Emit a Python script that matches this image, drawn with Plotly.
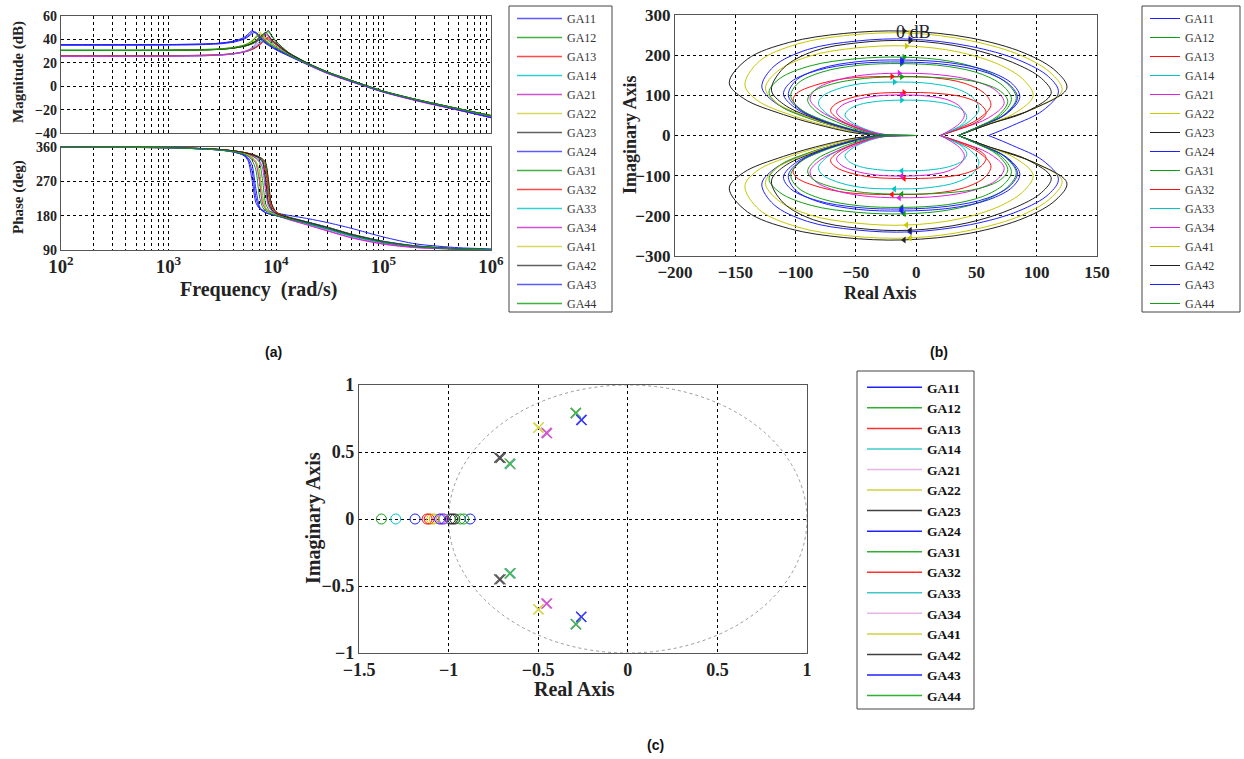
import plotly.graph_objects as go

W, H = 1244, 759

SERIES = ["GA11", "GA12", "GA13", "GA14", "GA21", "GA22", "GA23", "GA24",
          "GA31", "GA32", "GA33", "GA34", "GA41", "GA42", "GA43", "GA44"]

# ---- (a) Bode data ----
FREQ = [100, 1000, 2000, 3000, 4000, 5000, 5500, 6000, 6500, 7000, 7500, 8000,
        8500, 9000, 10000, 13000, 20000, 30000, 50000, 100000, 200000, 500000, 1000000]

MAG_DB = [
    [35.5, 35.6, 36.0, 36.8, 38.5, 41.5, 44.5, 47.5, 45.0, 41.0, 38.5, 36.5, 35.0, 33.5, 31.0, 26.0, 18.0, 11.0, 4.0, -5.0, -12.0, -20.5, -27.0],
    [31.0, 31.1, 31.4, 32.0, 33.0, 34.6, 35.7, 37.2, 39.2, 41.8, 44.0, 42.0, 39.0, 37.0, 34.0, 27.5, 19.0, 12.0, 4.8, -4.4, -11.4, -19.4, -25.3],
    [26.0, 26.1, 26.4, 26.9, 27.8, 29.2, 30.2, 31.4, 33.0, 35.0, 37.5, 40.2, 42.0, 40.0, 36.5, 28.5, 19.0, 11.8, 4.5, -4.6, -11.8, -20.0, -26.0],
    [26.0, 26.1, 26.4, 26.9, 27.8, 29.3, 30.3, 31.6, 33.4, 35.6, 38.0, 40.0, 39.5, 38.0, 35.5, 28.0, 18.8, 11.7, 4.5, -4.6, -11.7, -19.8, -25.6],
    [25.5, 25.6, 26.0, 26.5, 27.5, 29.0, 30.2, 31.6, 33.6, 36.4, 40.2, 44.0, 42.5, 39.5, 35.5, 28.0, 18.6, 11.4, 4.1, -5.0, -12.2, -20.4, -26.3],
    [30.5, 30.6, 31.0, 31.7, 33.0, 35.0, 36.5, 38.8, 42.5, 46.5, 43.0, 39.5, 37.0, 35.5, 33.0, 27.0, 18.8, 11.8, 4.7, -4.5, -11.5, -19.5, -25.5],
    [30.5, 30.6, 31.0, 31.5, 32.5, 34.0, 35.0, 36.2, 37.8, 39.8, 42.3, 45.5, 47.5, 44.0, 38.5, 29.0, 19.5, 12.3, 5.0, -4.2, -11.2, -19.2, -25.0],
    [35.5, 35.6, 36.0, 36.7, 38.2, 40.8, 43.2, 46.5, 46.0, 42.0, 39.0, 37.0, 35.3, 34.0, 31.5, 26.5, 18.5, 11.5, 4.3, -4.8, -11.8, -20.2, -26.6],
    [30.5, 30.6, 31.0, 31.5, 32.5, 34.0, 35.0, 36.3, 37.9, 40.0, 42.8, 45.8, 46.5, 43.5, 38.0, 28.8, 19.4, 12.2, 5.0, -4.2, -11.2, -19.2, -25.0],
    [26.0, 26.1, 26.4, 26.9, 27.8, 29.3, 30.3, 31.5, 33.2, 35.3, 38.0, 40.5, 40.5, 39.0, 35.8, 28.2, 18.8, 11.7, 4.4, -4.7, -11.9, -20.1, -26.1],
    [25.5, 25.6, 26.0, 26.6, 27.6, 29.3, 30.5, 32.2, 34.6, 38.0, 39.0, 38.3, 37.0, 35.8, 33.7, 27.3, 18.5, 11.5, 4.3, -4.8, -11.9, -20.0, -25.8],
    [25.5, 25.6, 26.0, 26.6, 27.7, 29.5, 30.9, 33.0, 36.5, 43.0, 41.5, 38.8, 37.0, 35.7, 33.2, 27.0, 18.2, 11.0, 3.8, -5.2, -12.4, -20.6, -26.5],
    [30.5, 30.6, 31.0, 31.6, 32.8, 34.6, 36.0, 38.0, 41.0, 44.5, 44.0, 40.5, 37.8, 36.0, 33.5, 27.2, 19.0, 12.0, 4.8, -4.4, -11.4, -19.4, -25.3],
    [30.5, 30.6, 31.0, 31.5, 32.6, 34.2, 35.3, 36.7, 38.5, 41.0, 44.0, 46.0, 43.5, 40.5, 36.5, 28.5, 19.3, 12.2, 5.0, -4.3, -11.3, -19.3, -25.2],
    [35.0, 35.1, 35.5, 36.2, 37.6, 40.0, 42.2, 45.0, 46.0, 43.0, 39.8, 37.6, 35.8, 34.4, 32.0, 26.8, 18.6, 11.5, 4.2, -4.9, -11.9, -20.3, -26.8],
    [30.5, 30.6, 31.0, 31.7, 33.0, 35.0, 36.5, 38.8, 42.0, 43.0, 40.5, 38.0, 36.3, 35.0, 32.8, 27.0, 18.8, 11.8, 4.7, -4.5, -11.5, -19.5, -25.4],
]

PHASE_DEG = [
    [359.5, 358, 355, 352, 347.5, 338, 324, 272, 214, 199, 195, 193, 191.5, 190, 187, 181, 172, 162, 147, 124, 106, 96, 93],
    [359.5, 358, 356, 353, 349, 344.5, 341, 336, 330, 320, 272, 212, 197, 190, 183, 174, 161, 148, 130, 111, 99, 93, 91],
    [359.5, 358.5, 356, 353.5, 350, 346, 343.5, 340.5, 337, 333, 327, 316, 272, 214, 190, 175, 160, 147, 129, 110, 99, 92.5, 91],
    [359.5, 358.5, 356, 353.5, 349.5, 345, 342.5, 339, 335, 329, 318, 272, 214, 199, 187, 173, 158, 145, 127, 109, 98, 92.5, 91],
    [359.5, 358, 355.5, 353, 349, 344.5, 341.5, 337.5, 332, 324, 305, 245, 205, 195, 185, 171, 155, 140, 122, 105, 96, 92, 91],
    [359.5, 358, 355.5, 352.5, 348.5, 343, 338, 330, 318, 272, 212, 196, 190, 186, 181, 173, 161, 149, 131, 112, 100, 93, 91],
    [359.5, 358.5, 356, 353.5, 350, 346, 343.5, 341, 338, 334, 329, 320, 275, 215, 190, 177, 163, 150, 132, 113, 101, 93.5, 91],
    [359.5, 358, 355, 352, 347, 339, 328, 295, 228, 200, 192, 188, 185, 183, 180, 172, 160, 148, 130, 112, 100, 93, 91],
    [359.5, 358.5, 356, 353.5, 350, 346, 343, 340.5, 337, 333, 326, 312, 250, 205, 189, 176, 162, 149, 131, 112, 100, 93, 91],
    [359.5, 358.5, 356, 353.5, 350, 345.5, 343, 340, 336, 331, 323, 300, 235, 205, 189, 175, 160, 147, 129, 110, 99, 92.5, 91],
    [359.5, 358, 355.5, 352.5, 348.5, 343, 338.5, 332, 322, 298, 232, 201, 192, 187, 181, 171, 157, 144, 126, 108, 98, 92.5, 91],
    [359.5, 358, 355.5, 352.5, 348.5, 343, 338, 330, 317, 272, 213, 198, 192, 187, 181, 170, 155, 141, 123, 106, 97, 92, 91],
    [359.5, 358, 355.5, 352.5, 348.5, 343.5, 339, 332, 322, 295, 230, 200, 192, 187, 182, 173, 161, 149, 131, 112, 100, 93, 91],
    [359.5, 358.5, 356, 353.5, 350, 345.5, 343, 340, 336, 331, 322, 275, 215, 198, 186, 175, 162, 149, 131, 112, 100, 93, 91],
    [359.5, 358, 355, 352, 347, 340, 332, 312, 250, 205, 193, 188, 185, 183, 180, 172, 160, 147, 129, 111, 99, 93, 91],
    [359.5, 358, 355, 352, 348, 341.5, 336, 325, 300, 232, 202, 193, 188, 185, 181, 172, 159, 146, 128, 110, 99, 92.5, 91],
]

# ---- (b) Nyquist data: upper half (positive imaginary branch) ----
NYQ_RE = [
    [60, 80, 105, 118, 110, 85, 45, -5, -50, -90, -118, -128, -118, -92, -64, -45, -28, 0],
    [35, 52, 73, 83, 77, 58, 28, -10, -50, -87, -113, -122, -113, -88, -60, -43, -28, 0],
    [20, 35, 52, 62, 57, 40, 14, -20, -58, -84, -99, -102, -94, -74, -52, -38, -25, 0],
    [20, 32, 45, 52, 48, 34, 10, -18, -46, -66, -78, -81, -74, -58, -42, -31, -21, 0],
    [20, 38, 60, 73, 67, 48, 20, -14, -45, -70, -84, -88, -80, -62, -45, -33, -22, 0],
    [35, 60, 97, 121, 113, 88, 45, -5, -55, -98, -130, -142, -132, -103, -70, -48, -30, 0],
    [35, 62, 100, 125, 116, 90, 45, -10, -60, -105, -140, -155, -143, -110, -75, -50, -30, 0],
    [35, 53, 75, 86, 80, 60, 28, -12, -48, -80, -100, -106, -98, -78, -55, -40, -26, 0],
    [35, 51, 70, 79, 73, 55, 26, -12, -47, -78, -98, -104, -96, -76, -54, -40, -26, 0],
    [20, 34, 50, 58, 54, 40, 17, -10, -36, -55, -67, -71, -65, -52, -38, -29, -20, 0],
    [20, 29, 38, 42, 39, 28, 10, -12, -32, -47, -56, -59, -54, -44, -33, -25, -17, 0],
    [20, 28, 36, 40, 37, 27, 10, -12, -34, -51, -62, -66, -60, -48, -36, -27, -18, 0],
    [35, 55, 82, 97, 90, 70, 35, -8, -50, -88, -115, -125, -116, -90, -62, -44, -28, 0],
    [35, 58, 92, 112, 104, 80, 42, -5, -48, -85, -110, -120, -110, -86, -60, -43, -28, 0],
    [35, 52, 74, 84, 78, 59, 27, -12, -49, -82, -104, -110, -101, -80, -56, -41, -27, 0],
    [35, 50, 67, 76, 70, 52, 24, -12, -43, -70, -86, -90, -83, -66, -48, -36, -24, 0],
]
NYQ_IM = [
    [0, 25, 62, 108, 146, 188, 222, 240, 235, 214, 172, 121, 84, 47, 20, 6, 1, 0],
    [0, 22, 52, 92, 125, 160, 185, 195, 191, 174, 142, 108, 74, 42, 18, 5, 1, 0],
    [0, 17, 42, 75, 104, 130, 144, 147, 142, 125, 105, 88, 60, 32, 13, 4, 1, 0],
    [0, 15, 37, 65, 92, 116, 130, 133, 129, 115, 97, 80, 54, 29, 11, 3, 1, 0],
    [0, 18, 44, 80, 110, 136, 151, 155, 150, 134, 113, 90, 62, 34, 14, 4, 1, 0],
    [0, 28, 66, 112, 152, 198, 236, 255, 250, 228, 185, 126, 88, 50, 21, 6, 1, 0],
    [0, 30, 70, 118, 160, 205, 243, 260, 254, 232, 190, 131, 92, 52, 22, 6, 1, 0],
    [0, 23, 54, 95, 128, 160, 181, 188, 184, 166, 136, 100, 68, 38, 16, 5, 1, 0],
    [0, 21, 50, 90, 121, 152, 172, 179, 175, 158, 130, 98, 66, 37, 16, 5, 1, 0],
    [0, 14, 33, 55, 76, 95, 105, 107, 104, 93, 78, 62, 42, 23, 9, 3, 1, 0],
    [0, 12, 27, 45, 62, 77, 86, 88, 85, 77, 64, 50, 34, 18, 7, 2, 1, 0],
    [0, 13, 30, 50, 70, 88, 98, 101, 98, 88, 74, 58, 39, 21, 8, 3, 1, 0],
    [0, 24, 56, 98, 136, 175, 208, 223, 218, 198, 160, 118, 82, 46, 19, 6, 1, 0],
    [0, 26, 60, 105, 142, 182, 218, 236, 231, 210, 168, 113, 78, 44, 19, 6, 1, 0],
    [0, 22, 53, 93, 125, 156, 176, 183, 179, 162, 133, 103, 70, 39, 16, 5, 1, 0],
    [0, 20, 47, 85, 110, 132, 143, 146, 142, 128, 108, 88, 60, 34, 14, 4, 1, 0],
]
ARROW_IDX = 7  # direction arrows sit at this point of each branch

# ---- (c) pole-zero data ----
POLE_RE = [[-0.26, -0.26], [-0.29, -0.29], [-0.29, -0.29], [-0.29, -0.29],
           [-0.45, -0.45], [-0.50, -0.50], [-0.71, -0.71], [-0.26, -0.26],
           [-0.29, -0.288], [-0.655, -0.655], [-0.655, -0.655], [-0.455, -0.455],
           [-0.497, -0.497], [-0.718, -0.718], [-0.257, -0.26], [-0.66, -0.66]]
POLE_IM = [[0.74, -0.73], [0.79, -0.785], [0.79, -0.785], [0.79, -0.785],
           [0.64, -0.63], [0.68, -0.675], [0.455, -0.45], [0.74, -0.73],
           [0.793, -0.786], [0.41, -0.405], [0.41, -0.405], [0.644, -0.631],
           [0.684, -0.674], [0.457, -0.45], [0.738, -0.731], [0.415, -0.407]]
ZERO_RE = [[-0.88], [-1.375], [-1.12], [-1.295], [-1.04], [-1.095], [-0.99], [-1.187],
           [-0.935], [-1.108], [-1.025], [-1.03], [-1.08], [-0.965, -0.978], [-1.05], [-0.915]]

# ---- styles ----
COL_AB = ["#2020ff", "#10a010", "#ff1010", "#00c4c4", "#e020e0", "#c8c800", "#202020",
          "#2020ff", "#10a010", "#ff1010", "#00c4c4", "#e020e0", "#c8c800", "#202020",
          "#2020ff", "#10a010"]
COL_LEG_A = ["#5a5aff", "#40b040", "#ff4a4a", "#30d0d0", "#d050d0", "#d8d860", "#606060",
             "#5a5aff", "#40b040", "#ff4a4a", "#30d0d0", "#d050d0", "#d8d860", "#606060",
             "#5a5aff", "#40b040"]
COL_C = ["#3a3aff", "#40b840", "#ff3a3a", "#30c8c8", "#d050d0", "#d4d440", "#505050",
         "#3a3aff", "#40b840", "#ff3a3a", "#30c8c8", "#d050d0", "#d4d440", "#505050",
         "#3a3aff", "#40b840"]
COL_LEG_C = ["#2020ff", "#30b030", "#ff3030", "#40c8c8", "#e8b4e8", "#d0d040", "#404040",
             "#2020ff", "#30b030", "#ff3030", "#40c8c8", "#e8b4e8", "#d0d040", "#404040",
             "#2020ff", "#30b030"]
SERIF = "Liberation Serif"

fig = go.Figure()

for i, name in enumerate(SERIES):
    fig.add_trace(go.Scatter(x=FREQ, y=MAG_DB[i], mode="lines", name=name, showlegend=False,
                             line=dict(color=COL_AB[i], width=1, shape="spline", smoothing=0.7),
                             xaxis="x", yaxis="y", hoverinfo="skip"))
for i, name in enumerate(SERIES):
    fig.add_trace(go.Scatter(x=FREQ, y=PHASE_DEG[i], mode="lines", name=name, showlegend=False,
                             line=dict(color=COL_AB[i], width=1, shape="spline", smoothing=0.7),
                             xaxis="x2", yaxis="y2", hoverinfo="skip"))
for i, name in enumerate(SERIES):
    xs = NYQ_RE[i] + [None] + NYQ_RE[i]
    ys = NYQ_IM[i] + [None] + [-v for v in NYQ_IM[i]]
    fig.add_trace(go.Scatter(x=xs, y=ys, mode="lines", name=name, connectgaps=False,
                             line=dict(color=COL_AB[i], width=1, shape="spline", smoothing=1.0),
                             xaxis="x3", yaxis="y3", legend="legend2", hoverinfo="skip"))
for i, name in enumerate(SERIES):
    k = ARROW_IDX
    fig.add_trace(go.Scatter(x=[NYQ_RE[i][k], NYQ_RE[i][k]], y=[NYQ_IM[i][k], -NYQ_IM[i][k]],
                             mode="markers", showlegend=False,
                             marker=dict(symbol=["triangle-right", "triangle-left"], size=6,
                                         color=COL_AB[i], line=dict(width=0)),
                             xaxis="x3", yaxis="y3", hoverinfo="skip"))
for i, name in enumerate(SERIES):
    fig.add_trace(go.Scatter(x=POLE_RE[i], y=POLE_IM[i], mode="markers", showlegend=False,
                             marker=dict(symbol="x-thin", size=10, line=dict(width=1.2, color=COL_C[i])),
                             xaxis="x4", yaxis="y4", hoverinfo="skip"))
for i, name in enumerate(SERIES):
    fig.add_trace(go.Scatter(x=ZERO_RE[i], y=[0] * len(ZERO_RE[i]), mode="markers", showlegend=False,
                             marker=dict(symbol="circle-open", size=10, color=COL_AB[i], line=dict(width=1)),
                             xaxis="x4", yaxis="y4", hoverinfo="skip"))
# legend entries for panels (a) and (c)
for i, name in enumerate(SERIES):
    fig.add_trace(go.Scatter(x=[None], y=[None], mode="lines", name=name,
                             line=dict(color=COL_LEG_A[i], width=1.5),
                             xaxis="x", yaxis="y", legend="legend", hoverinfo="skip"))
for i, name in enumerate(SERIES):
    fig.add_trace(go.Scatter(x=[None], y=[None], mode="lines", name=name,
                             line=dict(color=COL_LEG_C[i], width=1.5),
                             xaxis="x4", yaxis="y4", legend="legend3", hoverinfo="skip"))


def px(x):
    return x / W


def py(y):
    return 1 - y / H


GRID = dict(showgrid=True, gridcolor="black", griddash="3px,3px", gridwidth=1,
            zeroline=False, showline=True, mirror=True, linecolor="#555", linewidth=1.2,
            ticks="", fixedrange=True, automargin=False)


def tf(size):
    return dict(family=SERIF, size=size, color="#222", weight="bold")


MINOR = dict(showgrid=True, gridcolor="black", griddash="3px,3px", gridwidth=1, dtick="D1")

fig.update_layout(
    width=W, height=H, margin=dict(l=0, r=0, t=0, b=0, autoexpand=False),
    paper_bgcolor="white", plot_bgcolor="white", hovermode=False,
    font=dict(family=SERIF, size=14, color="#222", weight="bold"),
    xaxis=dict(GRID, domain=[px(61), px(491)], type="log", range=[2, 6], dtick=1,
               showticklabels=False, anchor="y", minor=MINOR),
    yaxis=dict(GRID, domain=[py(133), py(16)], range=[-40, 60], dtick=20, anchor="x",
               tickfont=tf(14)),
    xaxis2=dict(GRID, domain=[px(61), px(491)], type="log", range=[2, 6], dtick=1,
                exponentformat="power", anchor="y2", tickfont=tf(15), minor=MINOR),
    yaxis2=dict(GRID, domain=[py(250), py(147)], range=[90, 360], tickvals=[90, 180, 270, 360],
                anchor="x2", tickfont=tf(14)),
    xaxis3=dict(GRID, domain=[px(675), px(1097)], range=[-200, 150], dtick=50, anchor="y3",
                tickfont=tf(17)),
    yaxis3=dict(GRID, domain=[py(256), py(15)], range=[-300, 300], dtick=100, anchor="x3",
                tickfont=tf(17)),
    xaxis4=dict(GRID, domain=[px(359), px(807)], range=[-1.5, 1], dtick=0.5, anchor="y4",
                tickfont=tf(18)),
    yaxis4=dict(GRID, domain=[py(653), py(385)], range=[-1, 1], dtick=0.5, anchor="x4",
                tickfont=tf(18)),
    legend=dict(x=px(512), y=py(4), xanchor="left", yanchor="top", bgcolor="rgba(0,0,0,0)",
                borderwidth=0, itemwidth=45, tracegroupgap=0,
                font=dict(family=SERIF, size=12, color="#333", weight="normal")),
    legend2=dict(x=px(1145), y=py(4), xanchor="left", yanchor="top", bgcolor="rgba(0,0,0,0)",
                 borderwidth=0, itemwidth=30, tracegroupgap=0,
                 font=dict(family=SERIF, size=12, color="#333", weight="normal")),
    legend3=dict(x=px(862), y=py(372), xanchor="left", yanchor="top", bgcolor="rgba(0,0,0,0)",
                 borderwidth=0, itemwidth=55, tracegroupgap=0,
                 font=dict(family=SERIF, size=13.5, color="#111", weight="bold")),
)

# legend frames
for (x0, y0, x1, y1) in [(509, 6, 612, 312), (1142, 6, 1240, 312), (857, 371, 974, 709)]:
    fig.add_shape(type="rect", xref="paper", yref="paper", x0=px(x0), x1=px(x1), y0=py(y1), y1=py(y0),
                  line=dict(color="#444", width=1), fillcolor="rgba(0,0,0,0)", layer="above")

# unit circle in (c)
fig.add_shape(type="circle", xref="x4", yref="y4", x0=-1, x1=1, y0=-1, y1=1,
              line=dict(color="#999", width=1, dash="3px,3px"), layer="below")

SANS_B = dict(family="Liberation Sans", size=14, color="#111", weight="bold")
ann = [
    dict(text="Magnitude (dB)", x=px(18), y=py(72), textangle=-90, font=tf(15)),
    dict(text="Phase (deg)", x=px(18), y=py(197), textangle=-90, font=tf(15)),
    dict(text="Frequency  (rad/s)", x=px(258), y=py(290), font=tf(20)),
    dict(text="Imaginary Axis", x=px(630), y=py(135), textangle=-90, font=tf(18)),
    dict(text="Real Axis", x=px(880), y=py(293), font=tf(18)),
    dict(text="Imaginary Axis", x=px(313), y=py(518), textangle=-90, font=tf(20)),
    dict(text="Real Axis", x=px(574), y=py(689), font=tf(20)),
    dict(text="(a)", x=px(273), y=py(352), font=SANS_B),
    dict(text="(b)", x=px(939), y=py(352), font=SANS_B),
    dict(text="(c)", x=px(655), y=py(745), font=SANS_B),
]
for a in ann:
    fig.add_annotation(xref="paper", yref="paper", showarrow=False, xanchor="center", yanchor="middle", **a)

fig.add_annotation(xref="x3", yref="y3", x=-2, y=258, text="0 dB", showarrow=False,
                   font=dict(family=SERIF, size=18, color="#223", weight="normal"))

fig.write_html("out.html")
